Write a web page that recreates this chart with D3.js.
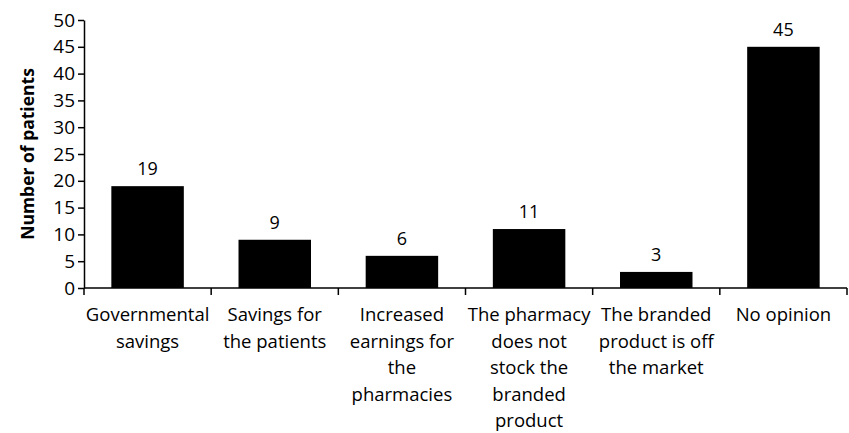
<!DOCTYPE html>
<html>
<head>
<meta charset="utf-8">
<script src="https://cdn.jsdelivr.net/npm/d3@7"></script>
<style>
  body { margin: 0; background: #fff; }
  text { font-family: "Open Sans", "Noto Sans", sans-serif; fill: #000; }
</style>
</head>
<body>
<div id="chart"></div>
<script>
// categories, line breaks as in the original figure
const categories = [
  "Governmental\nsavings",
  "Savings for\nthe patients",
  "Increased\nearnings for\nthe\npharmacies",
  "The pharmacy\ndoes not\nstock the\nbranded\nproduct",
  "The branded\nproduct is off\nthe market",
  "No opinion"
];
const patients = [19, 9, 6, 11, 3, 45];
const yTicks = [0, 5, 10, 15, 20, 25, 30, 35, 40, 45, 50];

const W = 849, H = 433;
const margin = {top: 20, right: 2, bottom: 145, left: 84};

const data = categories.map((c, i) => ({cat: c, value: patients[i]}));

const svg = d3.select("#chart").append("svg")
    .attr("width", W)
    .attr("height", H);

const x = d3.scaleBand()
    .domain(categories)
    .range([margin.left, W - margin.right])
    .paddingInner(0.43)
    .paddingOuter(0.215);

const y = d3.scaleLinear()
    .domain([0, 50])
    .range([H - margin.bottom, margin.top]);

// bars
svg.append("g").selectAll("rect")
    .data(data)
    .join("rect")
    .attr("x", d => x(d.cat))
    .attr("y", d => y(d.value))
    .attr("width", x.bandwidth())
    .attr("height", d => y(0) - y(d.value))
    .attr("fill", "#000");

// value labels
svg.append("g").selectAll("text")
    .data(data)
    .join("text")
    .attr("x", d => x(d.cat) + x.bandwidth() / 2)
    .attr("y", d => y(d.value) - 11)
    .attr("text-anchor", "middle")
    .style("font-size", "18px")
    .text(d => d.value);

// y axis
const yAxis = svg.append("g")
    .attr("transform", `translate(${margin.left},0)`)
    .call(d3.axisLeft(y).tickValues(yTicks).tickSize(6).tickPadding(3).tickSizeOuter(0));
yAxis.selectAll("text").style("font-size", "19px").style("font-family", "'Open Sans', sans-serif");
yAxis.selectAll("line, path").attr("stroke", "#000").attr("stroke-width", 1.5);

// x axis: ticks sit on the category boundaries
const bounds = d3.range(categories.length + 1).map(i =>
    margin.left + i * (W - margin.right - margin.left) / categories.length);
svg.append("line")
    .attr("x1", margin.left).attr("x2", bounds[bounds.length - 1])
    .attr("y1", y(0)).attr("y2", y(0))
    .attr("stroke", "#000").attr("stroke-width", 1.5);
svg.append("g").selectAll("line")
    .data(bounds)
    .join("line")
    .attr("x1", d => d).attr("x2", d => d)
    .attr("y1", y(0)).attr("y2", y(0) + 7)
    .attr("stroke", "#000").attr("stroke-width", 1.5);

// category labels
const labels = svg.append("g").selectAll("text")
    .data(data)
    .join("text")
    .attr("text-anchor", "middle")
    .style("font-size", "18.5px");
labels.each(function (d) {
    const t = d3.select(this);
    d.cat.split("\n").forEach((line, j) => {
        t.append("tspan")
            .attr("x", x(d.cat) + x.bandwidth() / 2)
            .attr("y", y(0) + 33 + j * 26.5)
            .text(line);
    });
});

// y axis title
svg.append("text")
    .attr("transform", `translate(34,${(y(0) + y(50)) / 2}) rotate(-90)`)
    .attr("text-anchor", "middle")
    .style("font-size", "17.5px")
    .style("font-weight", "bold")
    .text("Number of patients");
</script>
</body>
</html>
